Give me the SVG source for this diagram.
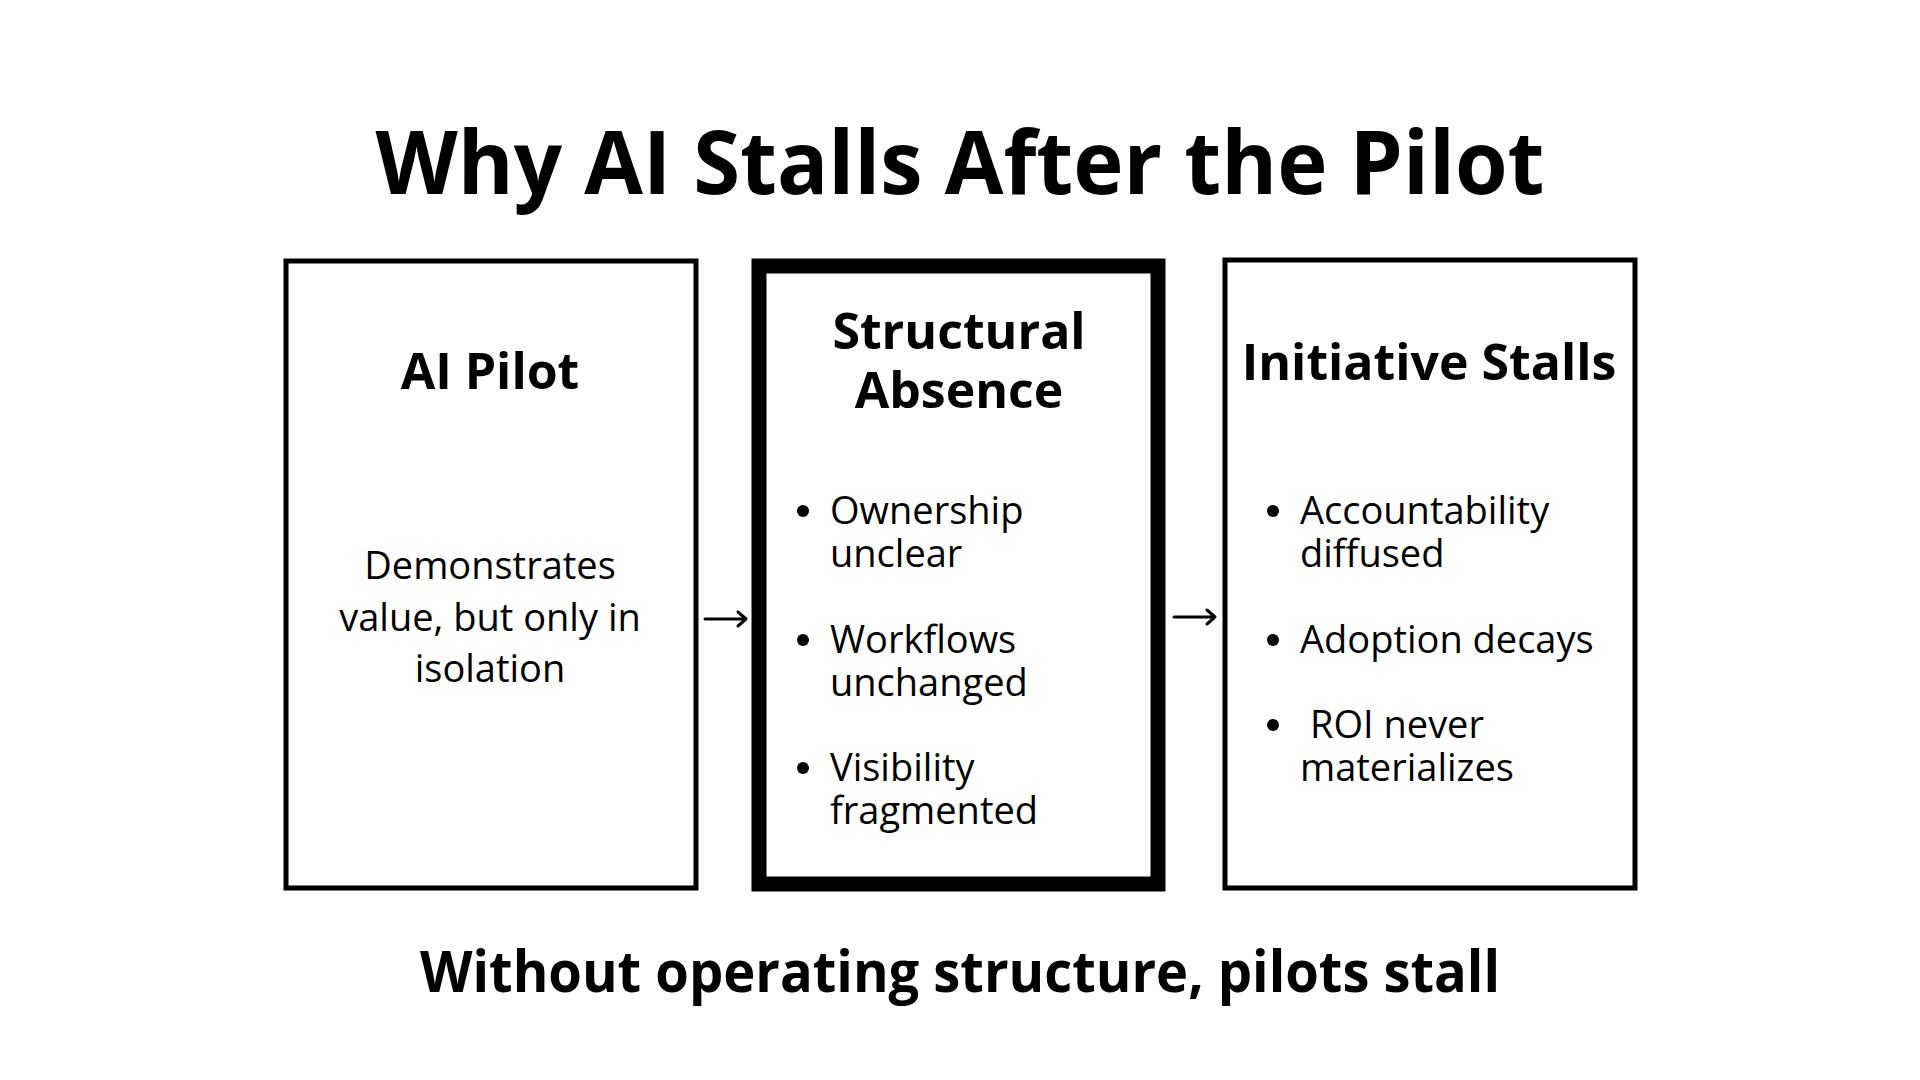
<svg xmlns="http://www.w3.org/2000/svg" width="1920" height="1080" viewBox="0 0 1920 1080">
<style>
.h{font-family:"Open Sans","Noto Sans",sans-serif;font-weight:700;fill:#000;text-anchor:middle}
.b{font-family:"Open Sans","Noto Sans",sans-serif;font-weight:400;fill:#000;font-size:38px}
.c{text-anchor:middle}
.box{fill:#fff;stroke:#000;stroke-width:5}
.thick{fill:#fff;stroke:#000;stroke-width:15}
.dot{fill:#000}
.arrow{fill:none;stroke:#000;stroke-width:3;stroke-linecap:round;stroke-linejoin:round}
</style>
<rect width="1920" height="1080" fill="#fff"/>
<text class="h" x="960" y="194" font-size="88" textLength="1169" lengthAdjust="spacingAndGlyphs">Why AI Stalls After the Pilot</text>
<g id="node-pilot">
<rect class="box" x="286" y="261" width="410" height="627"/>
<text class="h" x="490" y="389" font-size="50">AI Pilot</text>
<text class="b c" x="490" y="579">Demonstrates</text>
<text class="b c" x="490" y="631">value, but only in</text>
<text class="b c" x="490" y="682">isolation</text>
</g>
<g id="node-absence">
<rect class="thick" x="759" y="266" width="399" height="618"/>
<text class="h" x="959" y="349" font-size="50">Structural</text>
<text class="h" x="959" y="408" font-size="50">Absence</text>
<circle class="dot" cx="803" cy="511" r="6"/>
<text class="b" x="830" y="524">Ownership</text>
<text class="b" x="830" y="567">unclear</text>
<circle class="dot" cx="803" cy="640" r="6"/>
<text class="b" x="830" y="653">Workflows</text>
<text class="b" x="830" y="696">unchanged</text>
<circle class="dot" cx="803" cy="768" r="6"/>
<text class="b" x="830" y="781">Visibility</text>
<text class="b" x="830" y="824">fragmented</text>
</g>
<g id="node-stalls">
<rect class="box" x="1225" y="260" width="410" height="628"/>
<text class="h" x="1429" y="380" font-size="50">Initiative Stalls</text>
<circle class="dot" cx="1273" cy="511" r="6"/>
<text class="b" x="1300" y="524">Accountability</text>
<text class="b" x="1300" y="567">diffused</text>
<circle class="dot" cx="1273" cy="640" r="6"/>
<text class="b" x="1300" y="653">Adoption decays</text>
<circle class="dot" cx="1273" cy="725" r="6"/>
<text class="b" x="1310" y="738">ROI never</text>
<text class="b" x="1300" y="781">materializes</text>
</g>
<g id="connectors">
<path class="arrow" d="M705 619 H746 M738 612 L746 619 L738 626"/>
<path class="arrow" d="M1174 617 H1215 M1207 610 L1215 617 L1207 624"/>
</g>
<text class="h" x="960" y="992" font-size="58" textLength="1080" lengthAdjust="spacingAndGlyphs">Without operating structure, pilots stall</text>
</svg>
